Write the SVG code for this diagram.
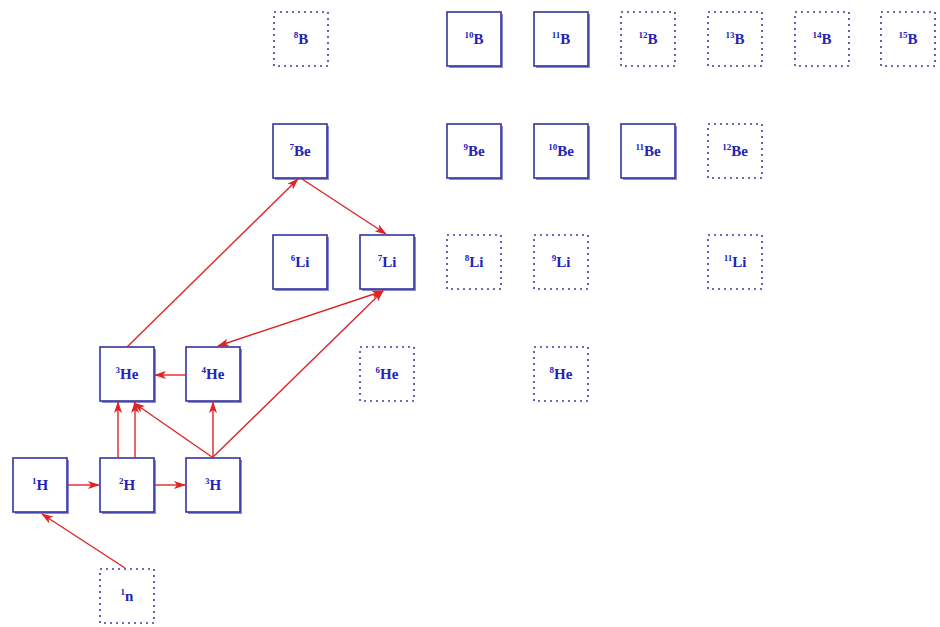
<svg xmlns="http://www.w3.org/2000/svg" width="940" height="627" viewBox="0 0 940 627">
<style>
.bg{fill:#ffffff}
.sh{fill:#8a8ad6}
.solid{fill:#ffffff;stroke:#34349e;stroke-width:1.6}
.dot{fill:#ffffff;stroke:#3c3c9c;stroke-width:1.6;stroke-dasharray:2 4}
.lbl{font-family:"Liberation Serif",serif;font-weight:bold;fill:#2323b8;text-anchor:middle}
.m{font-size:9px}
.e{font-size:15px}
.c{stroke:#e02424;stroke-width:1.4;fill:none;marker-end:url(#ah)}
.c2{marker-start:url(#ah)}
</style>
<defs>
<marker id="ah" viewBox="0 0 12 8" refX="11" refY="4" markerWidth="12" markerHeight="8" markerUnits="userSpaceOnUse" orient="auto-start-reverse">
<path d="M0,0 L12,4 L0,8 L3,4 z" fill="#e02424"/>
</marker>
</defs>
<rect class="bg" width="940" height="627"/>

<!-- Row B (y=39) -->
<g id="B8"><rect class="dot" x="274" y="12" width="54" height="54"/><text class="lbl" x="301" y="44"><tspan class="m" dy="-6">8</tspan><tspan class="e" dy="6">B</tspan></text></g>
<g id="B10"><rect class="sh" x="449" y="14" width="54" height="54"/><rect class="solid" x="447" y="12" width="54" height="54"/><text class="lbl" x="474" y="44"><tspan class="m" dy="-6">10</tspan><tspan class="e" dy="6">B</tspan></text></g>
<g id="B11"><rect class="sh" x="536" y="14" width="54" height="54"/><rect class="solid" x="534" y="12" width="54" height="54"/><text class="lbl" x="561" y="44"><tspan class="m" dy="-6">11</tspan><tspan class="e" dy="6">B</tspan></text></g>
<g id="B12"><rect class="dot" x="621" y="12" width="54" height="54"/><text class="lbl" x="648" y="44"><tspan class="m" dy="-6">12</tspan><tspan class="e" dy="6">B</tspan></text></g>
<g id="B13"><rect class="dot" x="708" y="12" width="54" height="54"/><text class="lbl" x="735" y="44"><tspan class="m" dy="-6">13</tspan><tspan class="e" dy="6">B</tspan></text></g>
<g id="B14"><rect class="dot" x="795" y="12" width="54" height="54"/><text class="lbl" x="822" y="44"><tspan class="m" dy="-6">14</tspan><tspan class="e" dy="6">B</tspan></text></g>
<g id="B15"><rect class="dot" x="881" y="12" width="54" height="54"/><text class="lbl" x="908" y="44"><tspan class="m" dy="-6">15</tspan><tspan class="e" dy="6">B</tspan></text></g>

<!-- Row Be (y=151) -->
<g id="Be7"><rect class="sh" x="275" y="126" width="54" height="54"/><rect class="solid" x="273" y="124" width="54" height="54"/><text class="lbl" x="300" y="156"><tspan class="m" dy="-6">7</tspan><tspan class="e" dy="6">Be</tspan></text></g>
<g id="Be9"><rect class="sh" x="449" y="126" width="54" height="54"/><rect class="solid" x="447" y="124" width="54" height="54"/><text class="lbl" x="474" y="156"><tspan class="m" dy="-6">9</tspan><tspan class="e" dy="6">Be</tspan></text></g>
<g id="Be10"><rect class="sh" x="536" y="126" width="54" height="54"/><rect class="solid" x="534" y="124" width="54" height="54"/><text class="lbl" x="561" y="156"><tspan class="m" dy="-6">10</tspan><tspan class="e" dy="6">Be</tspan></text></g>
<g id="Be11"><rect class="sh" x="623" y="126" width="54" height="54"/><rect class="solid" x="621" y="124" width="54" height="54"/><text class="lbl" x="648" y="156"><tspan class="m" dy="-6">11</tspan><tspan class="e" dy="6">Be</tspan></text></g>
<g id="Be12"><rect class="dot" x="708" y="124" width="54" height="54"/><text class="lbl" x="735" y="156"><tspan class="m" dy="-6">12</tspan><tspan class="e" dy="6">Be</tspan></text></g>

<!-- Row Li (y=262) -->
<g id="Li6"><rect class="sh" x="275" y="237" width="54" height="54"/><rect class="solid" x="273" y="235" width="54" height="54"/><text class="lbl" x="300" y="267"><tspan class="m" dy="-6">6</tspan><tspan class="e" dy="6">Li</tspan></text></g>
<g id="Li7"><rect class="sh" x="362" y="237" width="54" height="54"/><rect class="solid" x="360" y="235" width="54" height="54"/><text class="lbl" x="387" y="267"><tspan class="m" dy="-6">7</tspan><tspan class="e" dy="6">Li</tspan></text></g>
<g id="Li8"><rect class="dot" x="447" y="235" width="54" height="54"/><text class="lbl" x="474" y="267"><tspan class="m" dy="-6">8</tspan><tspan class="e" dy="6">Li</tspan></text></g>
<g id="Li9"><rect class="dot" x="534" y="235" width="54" height="54"/><text class="lbl" x="561" y="267"><tspan class="m" dy="-6">9</tspan><tspan class="e" dy="6">Li</tspan></text></g>
<g id="Li11"><rect class="dot" x="708" y="235" width="54" height="54"/><text class="lbl" x="735" y="267"><tspan class="m" dy="-6">11</tspan><tspan class="e" dy="6">Li</tspan></text></g>

<!-- Row He (y=374) -->
<g id="He3"><rect class="sh" x="102" y="349" width="54" height="54"/><rect class="solid" x="100" y="347" width="54" height="54"/><text class="lbl" x="127" y="379"><tspan class="m" dy="-6">3</tspan><tspan class="e" dy="6">He</tspan></text></g>
<g id="He4"><rect class="sh" x="188" y="349" width="54" height="54"/><rect class="solid" x="186" y="347" width="54" height="54"/><text class="lbl" x="213" y="379"><tspan class="m" dy="-6">4</tspan><tspan class="e" dy="6">He</tspan></text></g>
<g id="He6"><rect class="dot" x="360" y="347" width="54" height="54"/><text class="lbl" x="387" y="379"><tspan class="m" dy="-6">6</tspan><tspan class="e" dy="6">He</tspan></text></g>
<g id="He8"><rect class="dot" x="534" y="347" width="54" height="54"/><text class="lbl" x="561" y="379"><tspan class="m" dy="-6">8</tspan><tspan class="e" dy="6">He</tspan></text></g>

<!-- Row H (y=485) -->
<g id="H1"><rect class="sh" x="15" y="460" width="54" height="54"/><rect class="solid" x="13" y="458" width="54" height="54"/><text class="lbl" x="40" y="490"><tspan class="m" dy="-6">1</tspan><tspan class="e" dy="6">H</tspan></text></g>
<g id="H2"><rect class="sh" x="102" y="460" width="54" height="54"/><rect class="solid" x="100" y="458" width="54" height="54"/><text class="lbl" x="127" y="490"><tspan class="m" dy="-6">2</tspan><tspan class="e" dy="6">H</tspan></text></g>
<g id="H3"><rect class="sh" x="188" y="460" width="54" height="54"/><rect class="solid" x="186" y="458" width="54" height="54"/><text class="lbl" x="213" y="490"><tspan class="m" dy="-6">3</tspan><tspan class="e" dy="6">H</tspan></text></g>

<!-- Row n (y=596) -->
<g id="n1"><rect class="dot" x="100" y="569" width="54" height="54"/><text class="lbl" x="127" y="601"><tspan class="m" dy="-6">1</tspan><tspan class="e" dy="6">n</tspan></text></g>

<g id="connectors">
<line class="c" x1="125" y1="568" x2="42" y2="514"/>
<line class="c" x1="68" y1="485" x2="99" y2="485"/>
<line class="c" x1="155" y1="485" x2="185" y2="485"/>
<line class="c" x1="118" y1="458" x2="118" y2="402"/>
<line class="c" x1="135" y1="458" x2="135" y2="402"/>
<line class="c" x1="212" y1="457" x2="134" y2="403"/>
<line class="c" x1="213" y1="457" x2="213" y2="402"/>
<line class="c" x1="213" y1="457" x2="383" y2="291"/>
<line class="c" x1="186" y1="375" x2="155" y2="375"/>
<line class="c c2" x1="218" y1="346" x2="383" y2="291"/>
<line class="c" x1="127" y1="347" x2="298" y2="179"/>
<line class="c" x1="302" y1="179" x2="386" y2="234"/>
</g>
</svg>
